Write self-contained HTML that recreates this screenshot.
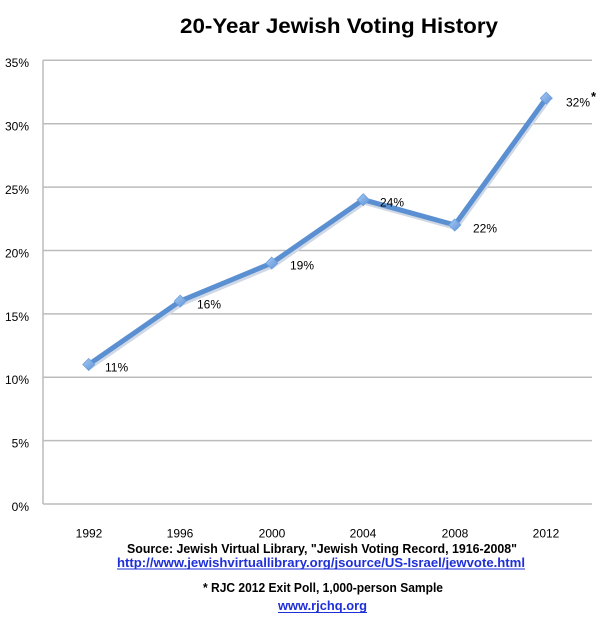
<!DOCTYPE html>
<html><head><meta charset="utf-8"><style>
html,body{margin:0;padding:0;background:#fff;}
svg{display:block;}
</style></head><body>
<svg width="607" height="623" viewBox="0 0 607 623" xmlns="http://www.w3.org/2000/svg">
<defs>
<linearGradient id="mk" x1="0" y1="0" x2="1" y2="1">
<stop offset="0" stop-color="#a9cbf3"/><stop offset="1" stop-color="#5d93d8"/>
</linearGradient>
</defs>
<rect width="607" height="623" fill="#fff"/>
<text x="339" y="33" font-family="Liberation Sans, sans-serif" font-weight="bold" font-size="21" text-anchor="middle" textLength="318" lengthAdjust="spacingAndGlyphs" fill="#000">20-Year Jewish Voting History</text>
<g stroke="#bcbcbc" stroke-width="1.5">
<line x1="43" y1="60.3" x2="592" y2="60.3"/>
<line x1="43" y1="123.7" x2="592" y2="123.7"/>
<line x1="43" y1="187.1" x2="592" y2="187.1"/>
<line x1="43" y1="250.5" x2="592" y2="250.5"/>
<line x1="43" y1="313.9" x2="592" y2="313.9"/>
<line x1="43" y1="377.2" x2="592" y2="377.2"/>
<line x1="43" y1="440.6" x2="592" y2="440.6"/>
<line x1="43" y1="504" x2="592" y2="504"/>
<line x1="43" y1="60.3" x2="43" y2="504"/>
</g>
<g font-family="Liberation Sans, sans-serif" font-size="12" fill="#000" text-anchor="end">
<text x="29" y="67">35%</text>
<text x="29" y="130.5">30%</text>
<text x="29" y="194">25%</text>
<text x="29" y="257.5">20%</text>
<text x="29" y="321">15%</text>
<text x="29" y="384">10%</text>
<text x="29" y="447.5">5%</text>
<text x="29" y="511">0%</text>
</g>
<g font-family="Liberation Sans, sans-serif" font-size="12" fill="#000" text-anchor="middle">
<text x="89" y="537.5">1992</text>
<text x="180" y="537.5">1996</text>
<text x="272" y="537.5">2000</text>
<text x="363" y="537.5">2004</text>
<text x="455" y="537.5">2008</text>
<text x="546" y="537.5">2012</text>
</g>
<polyline points="88.75,364.5 180.25,301.1 271.75,263.1 363.25,199.7 454.75,225 546.25,98.2" fill="none" stroke="#cfd8e4" stroke-width="6" stroke-linejoin="round" transform="translate(1,2)"/>
<polyline points="88.75,364.5 180.25,301.1 271.75,263.1 363.25,199.7 454.75,225 546.25,98.2" fill="none" stroke="#5a8fd2" stroke-width="5" stroke-linejoin="round"/>
<g fill="url(#mk)" stroke="#6e9fdc" stroke-width="0.8">
<polygon points="88.75,358.5 94.75,364.5 88.75,370.5 82.75,364.5"/>
<polygon points="180.25,295.1 186.25,301.1 180.25,307.1 174.25,301.1"/>
<polygon points="271.75,257.1 277.75,263.1 271.75,269.1 265.75,263.1"/>
<polygon points="363.25,193.7 369.25,199.7 363.25,205.7 357.25,199.7"/>
<polygon points="454.75,219 460.75,225 454.75,231 448.75,225"/>
<polygon points="546.25,92.2 552.25,98.2 546.25,104.2 540.25,98.2"/>
</g>
<g font-family="Liberation Sans, sans-serif" font-size="12" fill="#000">
<text x="105" y="371.5">11%</text>
<text x="197" y="308.5">16%</text>
<text x="290" y="269.5">19%</text>
<text x="380" y="206.5">24%</text>
<text x="473" y="232.5">22%</text>
<text x="566" y="106.5">32%</text>
</g>
<text x="591" y="101" font-family="Liberation Sans, sans-serif" font-weight="bold" font-size="13" fill="#000">*</text>
<g font-family="Liberation Sans, sans-serif" font-weight="bold" font-size="12.5" text-anchor="middle">
<text x="322" y="553" textLength="390" lengthAdjust="spacingAndGlyphs" fill="#000">Source: Jewish Virtual Library, "Jewish Voting Record, 1916-2008"</text>
<text x="321" y="567" textLength="408" lengthAdjust="spacingAndGlyphs" fill="#1f2fd8">http://www.jewishvirtuallibrary.org/jsource/US-Israel/jewvote.html</text>
<text x="323" y="592" textLength="240" lengthAdjust="spacingAndGlyphs" fill="#000">* RJC 2012 Exit Poll, 1,000-person Sample</text>
<text x="322.5" y="610" textLength="89" lengthAdjust="spacingAndGlyphs" fill="#1f2fd8">www.rjchq.org</text>
</g>
<line x1="117" y1="569" x2="525" y2="569" stroke="#1f2fd8" stroke-width="1"/>
<line x1="278" y1="612.5" x2="367" y2="612.5" stroke="#1f2fd8" stroke-width="1"/>
</svg>
</body></html>
